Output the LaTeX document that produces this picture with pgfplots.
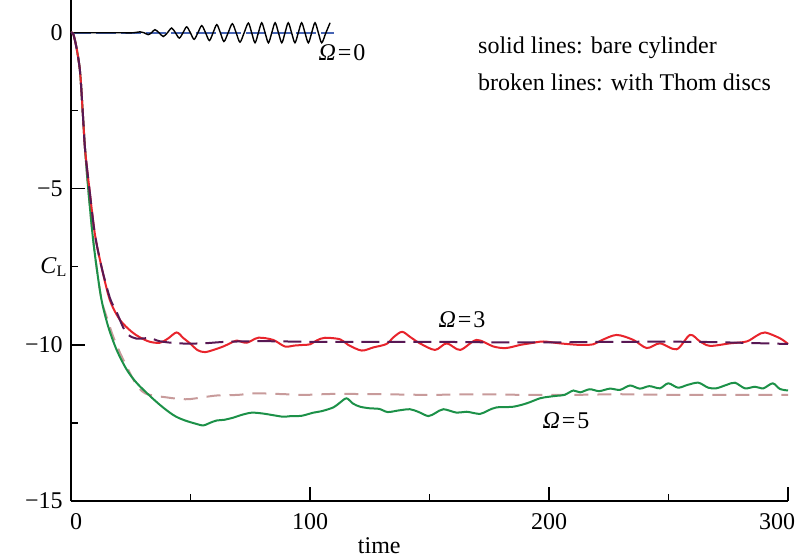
\documentclass[border=0pt]{standalone}
\usepackage{fontspec}
\setmainfont{Liberation Serif}
\usepackage{pgfplots}
\pgfplotsset{compat=1.18}
\definecolor{cred}{RGB}{232,36,44}
\definecolor{cgreen}{RGB}{28,145,72}
\definecolor{cpurple}{RGB}{88,24,84}
\definecolor{cpink}{RGB}{200,155,155}
\definecolor{cblue}{RGB}{70,100,180}
\begin{document}
\fontsize{12}{14}\selectfont
\begin{tikzpicture}
\useasboundingbox (-35.5pt,-27.5pt) rectangle (362.5pt,250.5pt);
\begin{axis}[
  scale only axis, width=358.5pt, height=250.5pt,
  xmin=0, xmax=300, ymin=-15, ymax=1.05,
  axis x line*=bottom, axis y line*=left,
  axis line style={line width=0.7pt},
  every tick/.style={line width=0.6pt, black},
  tick align=inside,
  major tick length=7pt, minor tick length=3.5pt,
  xtick={0,100,200,300}, xticklabels={{\hspace*{5pt}0},100,200,{300\hspace*{11pt}}},
  minor xtick={50,150,250},
  ytick={-15,-10,-5,0}, yticklabels={−15,−10,−5,0},
  minor ytick={-12.5,-7.5,-2.5},
  tick label style={font=\fontsize{12}{14}\selectfont},
  xticklabel style={yshift=-2pt},
  xlabel={time},
  xlabel style={at={(axis description cs:0.43,0)}, anchor=north, yshift=-14pt, font=\fontsize{12}{14}\selectfont},
  ylabel={\textit{C}\textsubscript{L}},
  ylabel style={rotate=-90, at={(axis description cs:-0.024,0.467)}, anchor=center, font=\fontsize{12}{14}\selectfont},
  clip=false,
]
% Omega=0 with discs (blue dashed)
\addplot[cblue, line width=0.8pt, dash pattern=on 10pt off 2.5pt] coordinates {(0,0) (110,0)};
% Omega=0 bare cylinder (black)
\addplot[black, line width=0.7pt, smooth, tension=0.5] coordinates {
(0,0) (20,0) (26,0) (28.9,0.03) (30.6,0) (32.3,-0.06) (33.7,0) (35.1,0.1) (36.85,0) (38.6,-0.12)
(40.35,0) (42.1,0.15) (43.7,0) (45.3,-0.17) (46.85,0) (48.4,0.19) (49.95,0) (51.5,-0.21) (53.1,0)
(54.7,0.23) (56.3,0) (57.9,-0.25) (59.45,0) (61.0,0.26) (62.5,0) (64.0,-0.28) (65.75,0) (67.5,0.29)
(69.1,0) (70.7,-0.3) (72.45,0) (74.2,0.31) (75.6,0) (77.0,-0.32) (78.4,0) (79.8,0.32) (81.2,0)
(82.6,-0.32) (84,0) (85.4,0.32) (86.8,0) (88.2,-0.32) (89.55,0) (90.9,0.32) (92.3,0) (93.7,-0.32)
(95.1,0) (96.5,0.32) (97.9,0) (99.3,-0.32) (100.7,0) (102.1,0.32) (103.5,0) (104.9,-0.32)
(106.65,0) (108.4,0.32)};
% Omega=5 with discs (pink dashed)
\addplot[cpink, line width=1pt, dash pattern=on 7pt off 4.5pt, smooth] coordinates {
(0,0) (1,-0.05) (2.4,-0.52) (3.8,-1.26) (4.9,-2.53) (5.9,-3.75) (7.2,-5.0) (9.0,-6.45) (10.7,-7.51)
(12.8,-8.57) (14.9,-9.1) (17.5,-9.7) (20.5,-10.25) (25,-10.95) (28,-11.35) (31,-11.55)
(35,-11.63) (40,-11.68) (44,-11.72) (49,-11.74) (55,-11.68) (61,-11.62) (70,-11.6) (77,-11.55)
(90,-11.58) (98,-11.6) (110,-11.57) (130,-11.58) (150,-11.6) (170,-11.58) (190,-11.6) (210,-11.6)
(230,-11.58) (250,-11.6) (270,-11.6) (290,-11.6) (300,-11.6)};
% Omega=5 bare (green)
\addplot[cgreen, line width=1pt, smooth] coordinates {
(0,0) (1,-0.05) (2.4,-0.52) (3.8,-1.26) (4.9,-2.53) (5.9,-3.75) (7.2,-5.0) (9.0,-6.45) (10.7,-7.51)
(12.8,-8.57) (15.6,-9.42) (19.1,-10.16) (23.3,-10.79) (27.5,-11.22) (33.1,-11.64) (37.2,-11.92)
(41,-12.15) (44,-12.3) (47.7,-12.42) (52,-12.52) (55.4,-12.58) (58,-12.5)
(61,-12.42) (64,-12.4) (67.9,-12.33) (71,-12.25) (75.6,-12.17) (80.5,-12.2) (84.5,-12.25)
(88.8,-12.3) (92,-12.28) (96.5,-12.27) (101.4,-12.17) (105,-12.12) (109.8,-12.0) (112.5,-11.85)
(115.3,-11.71) (118,-11.88) (121,-11.98) (125,-12.03) (129,-12.05) (132.5,-12.15) (137,-12.1)
(141.8,-12.06) (145.5,-12.15) (149.5,-12.28) (152.5,-12.18) (155.8,-12.06) (161.4,-12.17)
(165.5,-12.14) (171.1,-12.21) (174.5,-12.1) (178.1,-12.0) (185,-11.98) (190.7,-11.87)
(196.2,-11.71) (200,-11.66) (203.2,-11.63) (206.5,-11.6) (210.2,-11.46) (213,-11.52) (217,-11.42)
(221,-11.48) (225.5,-11.4) (229.7,-11.44) (233.9,-11.3) (238,-11.4) (242,-11.32) (246.4,-11.39)
(249.9,-11.23) (254,-11.37) (258,-11.28) (262.5,-11.21) (266.6,-11.37) (270,-11.39) (274.3,-11.28)
(277.8,-11.21) (282,-11.39) (286.2,-11.34) (289.7,-11.39) (293.6,-11.23) (296.6,-11.41) (300,-11.46)};
% Omega=3 bare (red)
\addplot[cred, line width=1pt, smooth] coordinates {
(0,0) (1,-0.05) (2.4,-0.52) (3.8,-1.26) (4.9,-2.53) (5.9,-3.75) (7.7,-5.0) (10.0,-6.45) (12.8,-7.51)
(16.3,-8.57) (20.5,-9.2) (25.4,-9.58) (28.9,-9.76) (33,-9.9) (37.2,-9.93)
(40.5,-9.8) (44.2,-9.6) (47,-9.78) (49.8,-9.95) (53,-10.17) (56.1,-10.23) (60,-10.15)
(63.7,-10.05) (66.5,-9.95) (69.3,-9.86) (73.5,-9.93) (78.4,-9.77) (84.6,-9.84) (89.5,-10.05)
(93.5,-10.02) (97.2,-10.0) (100,-9.98) (103,-9.85) (106.3,-9.77) (112.6,-9.82) (116,-10.0)
(121.6,-10.18) (126.5,-10.08) (132,-9.97) (135,-9.75) (138.5,-9.58) (142,-9.75) (146,-9.95)
(152.3,-10.16) (157.2,-9.95) (162.8,-10.16) (169.7,-9.84) (176.7,-10.05) (182,-10.1) (187.9,-10.0)
(192,-9.95) (197.6,-9.89) (204.6,-9.95) (213,-10.0) (218.5,-9.98) (222,-9.85) (228.3,-9.68)
(235.3,-9.84) (240.9,-10.1) (246.4,-9.95) (253.4,-10.14) (259,-9.68) (263.2,-9.89) (267.4,-10.03)
(275.7,-9.95) (282.7,-9.89) (287,-9.7) (290.4,-9.6) (296.7,-9.79) (300,-9.97)};
% Omega=3 with discs (purple dashed)
\addplot[cpurple, line width=1pt, dash pattern=on 9pt off 4pt, smooth] coordinates {
(0,0) (1,-0.05) (2.4,-0.52) (3.8,-1.26) (4.9,-2.53) (5.9,-3.75) (7.7,-5.0) (10.0,-6.45) (12.8,-7.51)
(16.3,-8.5) (19.1,-8.95) (21.9,-9.45) (24,-9.68) (27.5,-9.8) (33.1,-9.78) (37,-9.88) (45,-9.95)
(55,-9.95) (65,-9.9) (80,-9.88) (100,-9.9) (120,-9.9) (150,-9.9) (180,-9.92) (200,-9.92) (230,-9.9)
(260,-9.9) (280,-9.93) (300,-9.97)};
% labels
\node at (axis cs:113.4,-0.64) {\textit{Ω}\kern1pt=\kern1pt0};
\node at (axis cs:163.6,-9.2) {\textit{Ω}\kern1pt=\kern1pt3};
\node at (axis cs:207.1,-12.44) {\textit{Ω}\kern1pt=\kern1pt5};
\node[anchor=west, inner sep=0pt] at (axis cs:170.2,-0.47) {solid lines: bare cylinder};
\node[anchor=west, inner sep=0pt] at (axis cs:170.2,-1.59) {broken lines: with Thom discs};
\end{axis}
\end{tikzpicture}
\end{document}
